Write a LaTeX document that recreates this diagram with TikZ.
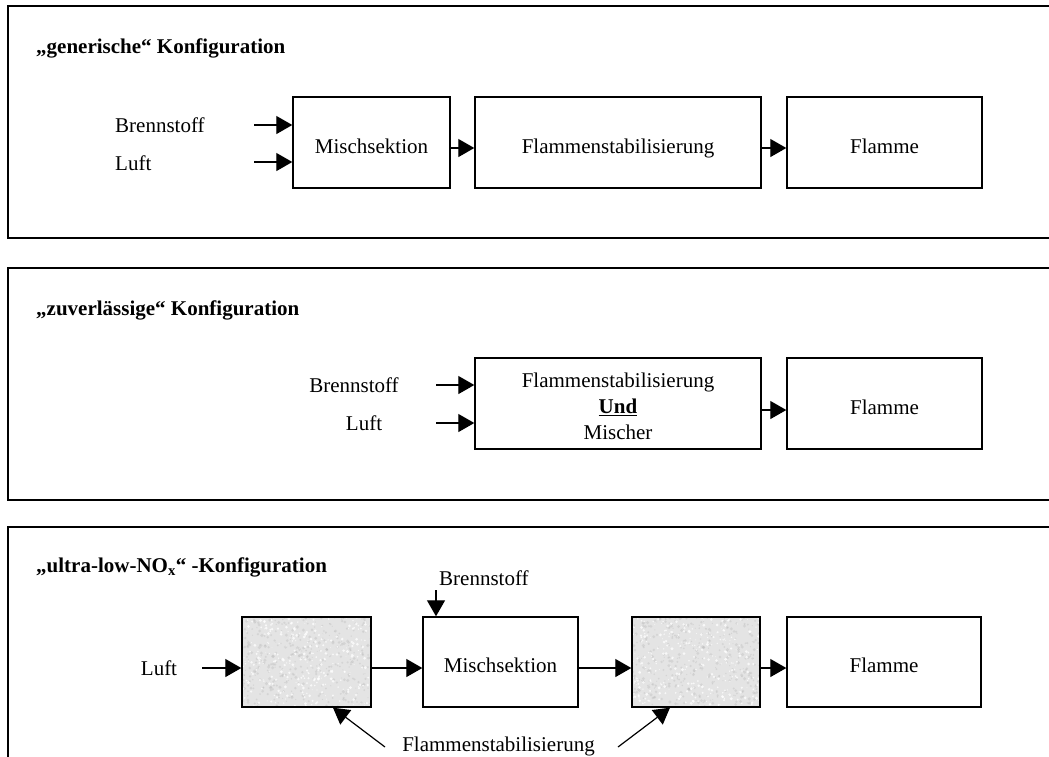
\documentclass[tikz,border=0pt]{standalone}
\usepackage{fontspec}
\setmainfont{Liberation Serif}
\usetikzlibrary{arrows.meta,calc}
\begin{document}
\begin{tikzpicture}[x=1pt,y=-1pt,
  panel/.style={draw,line width=1.6pt},
  blk/.style={draw,line width=1.4pt,fill=white,inner sep=0pt,align=center,
    font=\fontsize{21}{26}\selectfont},
  oneline/.style={text height=21pt,text depth=0pt},
  lbl/.style={font=\fontsize{21}{26}\selectfont,inner sep=0pt},
  ttl/.style={font=\fontsize{21}{26}\selectfont\bfseries,inner sep=0pt,anchor=base west},
  flow/.style={line width=1.2pt,-{Triangle[length=16pt,width=18pt]}},
  speck/.style={fill={rgb,255:red,228;green,228;blue,228},
    path picture={
      \foreach \i in {1,...,420}{
        \fill[gray!55,opacity=.35]
          ($(path picture bounding box.north west)+(rnd*132,rnd*92)$)
          circle[radius=0.5pt+rnd*1.3pt];
      }
      \foreach \i in {1,...,320}{
        \fill[white,opacity=.75]
          ($(path picture bounding box.north west)+(rnd*132,rnd*92)$)
          circle[radius=0.4pt+rnd*1.2pt];
      }
    }},
]
\pgfmathsetseed{11}
\useasboundingbox (0,0) rectangle (1049,756);
\clip (0,0) rectangle (1049,756);

% ---------- panel 1: generic configuration ----------
\draw[panel] (8,6) rectangle (1070,238);
\node[ttl] (t1) at (36,53) {„generische“ Konfiguration};
\node[lbl,anchor=base west] (fuel1) at (115,132) {Brennstoff};
\node[lbl,anchor=base west] (air1) at (115,170) {Luft};
\node[blk,oneline,minimum width=157pt,minimum height=91pt] (mix1) at (371.5,142.5) {Mischsektion};
\node[blk,oneline,minimum width=286pt,minimum height=91pt] (stab1) at (618,142.5) {Flammenstabilisierung};
\node[blk,oneline,minimum width=195pt,minimum height=91pt] (flame1) at (884.5,142.5) {Flamme};
\coordinate (f1s) at (254,125);
\coordinate (a1s) at (254,162);
\coordinate (r1) at (0,148);
\draw[flow] (f1s) -- (f1s -| mix1.west);
\draw[flow] (a1s) -- (a1s -| mix1.west);
\draw[flow] (r1 -| mix1.east) -- (r1 -| stab1.west);
\draw[flow] (r1 -| stab1.east) -- (r1 -| flame1.west);

% ---------- panel 2: reliable configuration ----------
\draw[panel] (8,268) rectangle (1070,500);
\node[ttl] (t2) at (36,315) {„zuverlässige“ Konfiguration};
\node[blk,minimum width=286pt,minimum height=91pt] (stab2) at (618,403.5) {};
\node[lbl,align=center,anchor=center,font=\fontsize{21}{26}\selectfont] (stab2txt) at (618,406)
  {Flammenstabilisierung\\\underline{\textbf{Und}}\\Mischer};
\node[blk,oneline,minimum width=195pt,minimum height=91pt] (flame2) at (884.5,403.5) {Flamme};
\node[lbl,anchor=base] (fuel2) at (354,392) {Brennstoff};
\node[lbl,anchor=base] (air2) at (364,430) {Luft};
\coordinate (f2s) at (436,385);
\coordinate (a2s) at (436,423);
\coordinate (r2) at (0,410);
\draw[flow] (f2s) -- (f2s -| stab2.west);
\draw[flow] (a2s) -- (a2s -| stab2.west);
\draw[flow] (r2 -| stab2.east) -- (r2 -| flame2.west);

% ---------- panel 3: ultra-low-NOx configuration ----------
\draw[panel] (8,527) rectangle (1070,790);
\node[ttl] (t3) at (36,572) {„ultra-low-NO\textsubscript{x}“ -Konfiguration};
\node[blk,speck,minimum width=129pt,minimum height=90pt] (g1) at (306.5,662) {};
\node[blk,oneline,minimum width=155pt,minimum height=90pt] (mix3) at (500.5,662) {Mischsektion};
\node[blk,speck,minimum width=128pt,minimum height=90pt] (g2) at (696,662) {};
\node[blk,oneline,minimum width=194pt,minimum height=90pt] (flame3) at (884,662) {Flamme};
\draw[line width=1.4pt] (g1.north west) rectangle (g1.south east);
\draw[line width=1.4pt] (g2.north west) rectangle (g2.south east);
\node[lbl,anchor=base] (air3) at (159,675) {Luft};
\node[lbl,anchor=base west] (fuel3) at (439,585) {Brennstoff};
\node[lbl,anchor=base] (stabl) at (498.5,751) {Flammenstabilisierung};
\coordinate (a3s) at (202,668);
\coordinate (r3) at (0,668);
\coordinate (f3s) at (436,590);
\coordinate (d1s) at (385,747);
\coordinate (d2s) at (618,747);
\coordinate (d1e) at (333,0);
\coordinate (d2e) at (670,0);
\draw[flow] (a3s) -- (a3s -| g1.west);
\draw[flow] (r3 -| g1.east) -- (r3 -| mix3.west);
\draw[flow] (r3 -| mix3.east) -- (r3 -| g2.west);
\draw[flow] (r3 -| g2.east) -- (r3 -| flame3.west);
\draw[flow] (f3s) -- (f3s |- mix3.north);
\draw[flow] (d1s) -- (d1e |- g1.south);
\draw[flow] (d2s) -- (d2e |- g2.south);
\end{tikzpicture}
\end{document}
